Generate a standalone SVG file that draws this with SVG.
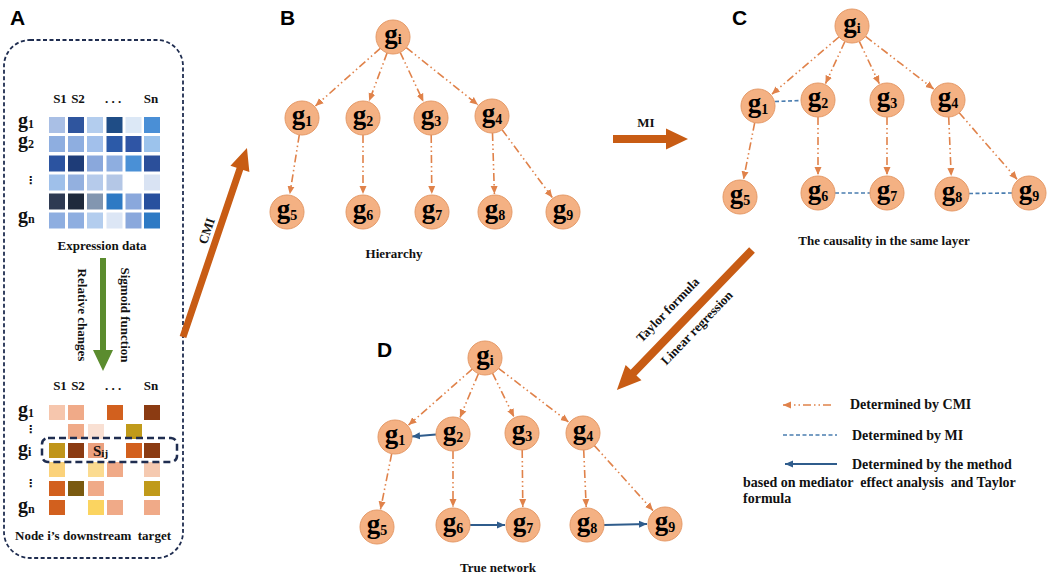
<svg xmlns="http://www.w3.org/2000/svg" width="1052" height="577" viewBox="0 0 1052 577">
<defs>
<style>
.lbl{font-family:"Liberation Sans",Arial,sans-serif;font-weight:bold;font-size:21px;fill:#000}
.t{font-family:"Liberation Serif","Times New Roman",serif;font-weight:bold;font-size:13px;fill:#111;white-space:pre}
.lg{font-family:"Liberation Serif","Times New Roman",serif;font-weight:bold;font-size:14px;fill:#111;white-space:pre}
.hg{font-family:"Liberation Serif","Times New Roman",serif;font-weight:bold;font-size:20px;fill:#111}
.hs{font-size:12px}
.vd{font-family:"DejaVu Sans",sans-serif;font-weight:bold;font-size:11px;fill:#111}
.node circle{fill:#f4b183;stroke:#e59a68;stroke-width:1}
.node text{font-family:"Liberation Serif","Times New Roman",serif;font-weight:bold;font-size:27px;fill:#000;text-anchor:middle}
.node tspan{font-size:14px}
.cmi{stroke:#e0824a;stroke-width:1.6;fill:none;stroke-dasharray:8 3 1.5 3 1.5 3;marker-end:url(#arrO)}
.mi{stroke:#4a7db0;stroke-width:1.6;fill:none;stroke-dasharray:4 2.5}
.sol{stroke:#2f5c8c;stroke-width:1.8;fill:none;marker-end:url(#arrB)}
.big{fill:#c85c14}
</style>
<marker id="arrO" markerUnits="userSpaceOnUse" markerWidth="9" markerHeight="8" refX="8" refY="4" orient="auto"><path d="M0,0.5 L8,4 L0,7.5 z" fill="#e0824a"/></marker>
<marker id="arrB" markerUnits="userSpaceOnUse" markerWidth="9" markerHeight="8" refX="8" refY="4" orient="auto"><path d="M0,0.5 L8,4 L0,7.5 z" fill="#2f5c8c"/></marker>
</defs>
<rect width="1052" height="577" fill="#fff"/>

<!-- Panel letters -->
<text class="lbl" x="10" y="25">A</text>
<text class="lbl" x="280" y="25">B</text>
<text class="lbl" x="732" y="25">C</text>
<text class="lbl" x="377" y="357">D</text>

<!-- Panel A -->
<g id="panelA">
<rect x="4" y="40" width="179" height="518" rx="26" fill="none" stroke="#1f2d50" stroke-width="1.8" stroke-dasharray="4 2.5"/>
<text class="t" x="60" y="103" text-anchor="middle">S1</text>
<text class="t" x="78" y="103" text-anchor="middle">S2</text>
<text class="t" x="113" y="103" text-anchor="middle">. . .</text>
<text class="t" x="151" y="103" text-anchor="middle">Sn</text>
<text class="hg" x="18" y="127">g<tspan class="hs" dy="1">1</tspan></text>
<text class="hg" x="18" y="147">g<tspan class="hs" dy="1">2</tspan></text>
<text class="vd" x="25" y="184">⋮</text>
<text class="hg" x="18" y="222">g<tspan class="hs" dy="1">n</tspan></text>
<g id="heat1">
<rect x="49" y="117" width="16" height="16" fill="#a9bfe5"/><rect x="68" y="117" width="16" height="16" fill="#2f559e"/><rect x="87" y="117" width="16" height="16" fill="#b3cdee"/><rect x="106.5" y="117" width="16" height="16" fill="#1f4d86"/><rect x="125.5" y="117" width="16" height="16" fill="#dce8f6"/><rect x="144" y="117" width="16" height="16" fill="#4a8fd6"/>
<rect x="49" y="136" width="16" height="16" fill="#8eaee0"/><rect x="68" y="136" width="16" height="16" fill="#8eaee0"/><rect x="87" y="136" width="16" height="16" fill="#a2c0eb"/><rect x="106.5" y="136" width="16" height="16" fill="#2c5aa8"/><rect x="125.5" y="136" width="16" height="16" fill="#2f55a5"/><rect x="144" y="136" width="16" height="16" fill="#9cc3ec"/>
<rect x="49" y="155.5" width="16" height="16" fill="#2b53a0"/><rect x="68" y="155.5" width="16" height="16" fill="#1e3c78"/><rect x="87" y="155.5" width="16" height="16" fill="#8aa8dc"/><rect x="106.5" y="155.5" width="16" height="16" fill="#8eaee0"/><rect x="125.5" y="155.5" width="16" height="16" fill="#4a90d6"/><rect x="144" y="155.5" width="16" height="16" fill="#2b4f9a"/>
<rect x="49" y="174.5" width="16" height="16" fill="#9fc0ea"/><rect x="68" y="174.5" width="16" height="16" fill="#93b0df"/><rect x="87" y="174.5" width="16" height="16" fill="#b6cbeb"/><rect x="106.5" y="174.5" width="16" height="16" fill="#b4c7e6"/><rect x="144" y="174.5" width="16" height="16" fill="#d9e3f3"/>
<rect x="49" y="193.5" width="16" height="16" fill="#2e3a52"/><rect x="68" y="193.5" width="16" height="16" fill="#1f2a3c"/><rect x="87" y="193.5" width="16" height="16" fill="#8296b0"/><rect x="106.5" y="193.5" width="16" height="16" fill="#2e7ac4"/><rect x="125.5" y="193.5" width="16" height="16" fill="#8aa8dc"/><rect x="144" y="193.5" width="16" height="16" fill="#28509e"/>
<rect x="49" y="212.5" width="16" height="16" fill="#8eaee0"/><rect x="68" y="212.5" width="16" height="16" fill="#8eaee0"/><rect x="87" y="212.5" width="16" height="16" fill="#b3cdee"/><rect x="106.5" y="212.5" width="16" height="16" fill="#dce6f5"/><rect x="125.5" y="212.5" width="16" height="16" fill="#8aa8dc"/><rect x="144" y="212.5" width="16" height="16" fill="#2e7ac4"/>
</g>
<text class="t" x="102" y="250" text-anchor="middle">Expression data</text>
<polygon points="100,258 106,258 106,350 113,350 103,371 93,350 100,350" fill="#5b8c2e"/>
<text class="t" transform="translate(77.5,315) rotate(90)" text-anchor="middle">Relative changes</text>
<text class="t" transform="translate(120.5,315) rotate(90)" text-anchor="middle">Sigmoid function</text>
<text class="t" x="60" y="390" text-anchor="middle">S1</text>
<text class="t" x="78" y="390" text-anchor="middle">S2</text>
<text class="t" x="113" y="390" text-anchor="middle">. . .</text>
<text class="t" x="151" y="390" text-anchor="middle">Sn</text>
<text class="hg" x="18" y="416">g<tspan class="hs" dy="1">1</tspan></text>
<text class="vd" x="25" y="433">⋮</text>
<text class="hg" x="18" y="455">g<tspan class="hs" dy="1">i</tspan></text>
<text class="vd" x="25" y="487">⋮</text>
<text class="hg" x="18" y="512">g<tspan class="hs" dy="1">n</tspan></text>
<g id="heat2">
<rect x="49" y="405" width="16" height="15" fill="#f6c6ad"/><rect x="68" y="405" width="16" height="15" fill="#f0aa88"/><rect x="107" y="405" width="16" height="15" fill="#d2601e"/><rect x="144" y="405" width="16" height="15" fill="#8b3b12"/>
<rect x="68" y="424" width="16" height="15" fill="#f0aa88"/><rect x="88" y="424" width="16" height="15" fill="#f9e0d3"/><rect x="126" y="424" width="16" height="15" fill="#c09a1a"/>
<rect x="49" y="443" width="16" height="15" fill="#c0951a"/><rect x="68" y="443" width="16" height="15" fill="#8b3b12"/><rect x="88" y="443" width="16" height="15" fill="#eba07e"/><rect x="126" y="443" width="16" height="15" fill="#d2601e"/><rect x="144" y="443" width="16" height="15" fill="#8b3b12"/>
<rect x="49" y="462" width="16" height="15" fill="#fbd27a"/><rect x="88" y="462" width="16" height="15" fill="#fbdb90"/><rect x="107" y="462" width="16" height="15" fill="#f0aa88"/><rect x="144" y="462" width="16" height="15" fill="#f5c9b0"/>
<rect x="49" y="481" width="16" height="15" fill="#d2601e"/><rect x="68" y="481" width="16" height="15" fill="#7a5a10"/><rect x="88" y="481" width="16" height="15" fill="#f0aa88"/><rect x="144" y="481" width="16" height="15" fill="#c09a1a"/>
<rect x="49" y="500" width="16" height="15" fill="#d2601e"/><rect x="88" y="500" width="16" height="15" fill="#fbd460"/><rect x="107" y="500" width="16" height="15" fill="#f0aa88"/><rect x="144" y="500" width="16" height="15" fill="#f0aa88"/>
</g>
<text class="t" x="93" y="456" style="font-size:15px">S<tspan style="font-size:11px" dy="1">ij</tspan></text>
<rect x="42" y="438" width="135" height="24" rx="6" fill="none" stroke="#1f2d50" stroke-width="2.5" stroke-dasharray="7 4"/>
<text class="t" x="93" y="540" text-anchor="middle">Node i’s downstream  target</text>
</g>

<!-- Big transition arrows -->
<g id="bigArrows">
<polygon class="big" transform="translate(183,337) rotate(-71.3)" points="0,-3.5 177.5,-3.5 177.5,-10 199.5,0 177.5,10 177.5,3.5 0,3.5"/>
<text class="t" transform="translate(207,231) rotate(-71.3)" text-anchor="middle" y="4">CMI</text>
<polygon class="big" points="613,135 666,135 666,128.5 688,139 666,149.5 666,143 613,143"/>
<text class="t" x="646" y="127" text-anchor="middle">MI</text>
<polygon class="big" transform="translate(752,250) rotate(134)" points="0,-4 170.5,-4 170.5,-11 194.5,0 170.5,11 170.5,4 0,4"/>
<text class="t" transform="translate(668,310) rotate(-46)" text-anchor="middle" y="4">Taylor formula</text>
<text class="t" transform="translate(697,328) rotate(-46)" text-anchor="middle" y="4">Linear regression</text>
</g>

<!-- Connectors -->
<g id="connectors">
<!-- B -->
<line class="cmi" x1="380.3" y1="48.3" x2="315.4" y2="106"/>
<line class="cmi" x1="387.1" y1="52.9" x2="369.2" y2="101.1"/>
<line class="cmi" x1="400.2" y1="52.4" x2="423.4" y2="101.7"/>
<line class="cmi" x1="406.3" y1="47.6" x2="477.9" y2="104.8"/>
<line class="cmi" x1="299.3" y1="134.8" x2="289.8" y2="194.2"/>
<line class="cmi" x1="363" y1="135" x2="363" y2="194"/>
<line class="cmi" x1="431.2" y1="135" x2="431.8" y2="194"/>
<line class="cmi" x1="492.5" y1="133" x2="494.4" y2="194"/>
<line class="cmi" x1="502.1" y1="129.7" x2="552.3" y2="197.5"/>
<!-- C -->
<line class="cmi" x1="839" y1="37" x2="771.7" y2="94.3"/>
<line class="cmi" x1="844.9" y1="41.5" x2="825.5" y2="83.6"/>
<line class="cmi" x1="859.3" y1="41.4" x2="879.3" y2="83.7"/>
<line class="cmi" x1="865.5" y1="36.4" x2="933.7" y2="89"/>
<line class="cmi" x1="754.7" y1="122.7" x2="743.5" y2="179.3"/>
<line class="cmi" x1="818" y1="117" x2="818" y2="175"/>
<line class="cmi" x1="887" y1="117" x2="887" y2="175"/>
<line class="cmi" x1="948.7" y1="117" x2="951.2" y2="176"/>
<line class="cmi" x1="959.2" y1="112.8" x2="1017.2" y2="179.4"/>
<line class="mi" x1="775" y1="101.5" x2="801" y2="100.5"/>
<line class="mi" x1="835" y1="193" x2="870" y2="193"/>
<line class="mi" x1="969" y1="193.5" x2="1012" y2="193"/>
<!-- D -->
<line class="cmi" x1="472.2" y1="369.2" x2="408.5" y2="425.1"/>
<line class="cmi" x1="478.4" y1="373.7" x2="460" y2="417.4"/>
<line class="cmi" x1="492.5" y1="373.2" x2="514" y2="416.9"/>
<line class="cmi" x1="498.5" y1="368.3" x2="568.7" y2="422.1"/>
<line class="cmi" x1="391.7" y1="453.7" x2="380.5" y2="509.4"/>
<line class="cmi" x1="453" y1="451" x2="453" y2="507"/>
<line class="cmi" x1="522.2" y1="450" x2="522.8" y2="507"/>
<line class="cmi" x1="583.7" y1="450" x2="586.2" y2="507"/>
<line class="cmi" x1="594.4" y1="445.6" x2="653" y2="510.6"/>
<line class="sol" x1="436" y1="434.5" x2="412" y2="436.5"/>
<line class="sol" x1="470" y1="525" x2="505" y2="525"/>
<line class="sol" x1="604" y1="525" x2="647" y2="524"/>
<!-- legend -->
<line class="cmi" x1="831" y1="405" x2="783" y2="405"/>
<line class="mi" x1="783" y1="435" x2="837" y2="435"/>
<line class="sol" x1="837" y1="464" x2="785" y2="464"/>
</g>

<!-- Panel B nodes -->
<g id="B_gi" class="node"><circle cx="393" cy="37" r="17"/><text x="393" y="43">g<tspan dy="1">i</tspan></text></g>
<g id="B_g1" class="node"><circle cx="302" cy="118" r="17"/><text x="302" y="124">g<tspan dy="2">1</tspan></text></g>
<g id="B_g2" class="node"><circle cx="363" cy="118" r="17"/><text x="363" y="124">g<tspan dy="2">2</tspan></text></g>
<g id="B_g3" class="node"><circle cx="431" cy="118" r="17"/><text x="431" y="124">g<tspan dy="2">3</tspan></text></g>
<g id="B_g4" class="node"><circle cx="492" cy="116" r="17"/><text x="492" y="122">g<tspan dy="2">4</tspan></text></g>
<g id="B_g5" class="node"><circle cx="287" cy="212" r="17"/><text x="287" y="218">g<tspan dy="2">5</tspan></text></g>
<g id="B_g6" class="node"><circle cx="363" cy="212" r="17"/><text x="363" y="218">g<tspan dy="2">6</tspan></text></g>
<g id="B_g7" class="node"><circle cx="432" cy="212" r="17"/><text x="432" y="218">g<tspan dy="2">7</tspan></text></g>
<g id="B_g8" class="node"><circle cx="495" cy="212" r="17"/><text x="495" y="218">g<tspan dy="2">8</tspan></text></g>
<g id="B_g9" class="node"><circle cx="563" cy="212" r="17"/><text x="563" y="218">g<tspan dy="2">9</tspan></text></g>
<text class="t" x="394" y="258" text-anchor="middle">Hierarchy</text>

<!-- Panel C nodes -->
<g id="C_gi" class="node"><circle cx="852" cy="26" r="17"/><text x="852" y="32">g<tspan dy="1">i</tspan></text></g>
<g id="C_g1" class="node"><circle cx="758" cy="106" r="17"/><text x="758" y="112">g<tspan dy="2">1</tspan></text></g>
<g id="C_g2" class="node"><circle cx="818" cy="100" r="17"/><text x="818" y="106">g<tspan dy="2">2</tspan></text></g>
<g id="C_g3" class="node"><circle cx="887" cy="100" r="17"/><text x="887" y="106">g<tspan dy="2">3</tspan></text></g>
<g id="C_g4" class="node"><circle cx="948" cy="100" r="17"/><text x="948" y="106">g<tspan dy="2">4</tspan></text></g>
<g id="C_g5" class="node"><circle cx="740" cy="197" r="17"/><text x="740" y="203">g<tspan dy="2">5</tspan></text></g>
<g id="C_g6" class="node"><circle cx="818" cy="193" r="17"/><text x="818" y="199">g<tspan dy="2">6</tspan></text></g>
<g id="C_g7" class="node"><circle cx="887" cy="193" r="17"/><text x="887" y="199">g<tspan dy="2">7</tspan></text></g>
<g id="C_g8" class="node"><circle cx="952" cy="194" r="17"/><text x="952" y="200">g<tspan dy="2">8</tspan></text></g>
<g id="C_g9" class="node"><circle cx="1029" cy="193" r="17"/><text x="1029" y="199">g<tspan dy="2">9</tspan></text></g>
<text class="t" x="884" y="245" text-anchor="middle">The causality in the same layer</text>

<!-- Panel D nodes -->
<g id="D_gi" class="node"><circle cx="485" cy="358" r="17"/><text x="485" y="364">g<tspan dy="1">i</tspan></text></g>
<g id="D_g1" class="node"><circle cx="395" cy="437" r="17"/><text x="395" y="443">g<tspan dy="2">1</tspan></text></g>
<g id="D_g2" class="node"><circle cx="453" cy="434" r="17"/><text x="453" y="440">g<tspan dy="2">2</tspan></text></g>
<g id="D_g3" class="node"><circle cx="522" cy="433" r="17"/><text x="522" y="439">g<tspan dy="2">3</tspan></text></g>
<g id="D_g4" class="node"><circle cx="583" cy="433" r="17"/><text x="583" y="439">g<tspan dy="2">4</tspan></text></g>
<g id="D_g5" class="node"><circle cx="377" cy="527" r="17"/><text x="377" y="533">g<tspan dy="2">5</tspan></text></g>
<g id="D_g6" class="node"><circle cx="453" cy="525" r="17"/><text x="453" y="531">g<tspan dy="2">6</tspan></text></g>
<g id="D_g7" class="node"><circle cx="523" cy="525" r="17"/><text x="523" y="531">g<tspan dy="2">7</tspan></text></g>
<g id="D_g8" class="node"><circle cx="587" cy="525" r="17"/><text x="587" y="531">g<tspan dy="2">8</tspan></text></g>
<g id="D_g9" class="node"><circle cx="665" cy="524" r="17"/><text x="665" y="530">g<tspan dy="2">9</tspan></text></g>
<text class="t" x="498" y="572" text-anchor="middle">True network</text>

<!-- Legend -->
<g id="legend">
<text class="lg" x="850" y="409">Determined by CMI</text>
<text class="lg" x="852" y="440">Determined by MI</text>
<text class="lg" x="852" y="469">Determined by the method</text>
<text class="lg" x="743" y="487">based on mediator  effect analysis  and Taylor</text>
<text class="lg" x="743" y="503">formula</text>
</g>
</svg>
